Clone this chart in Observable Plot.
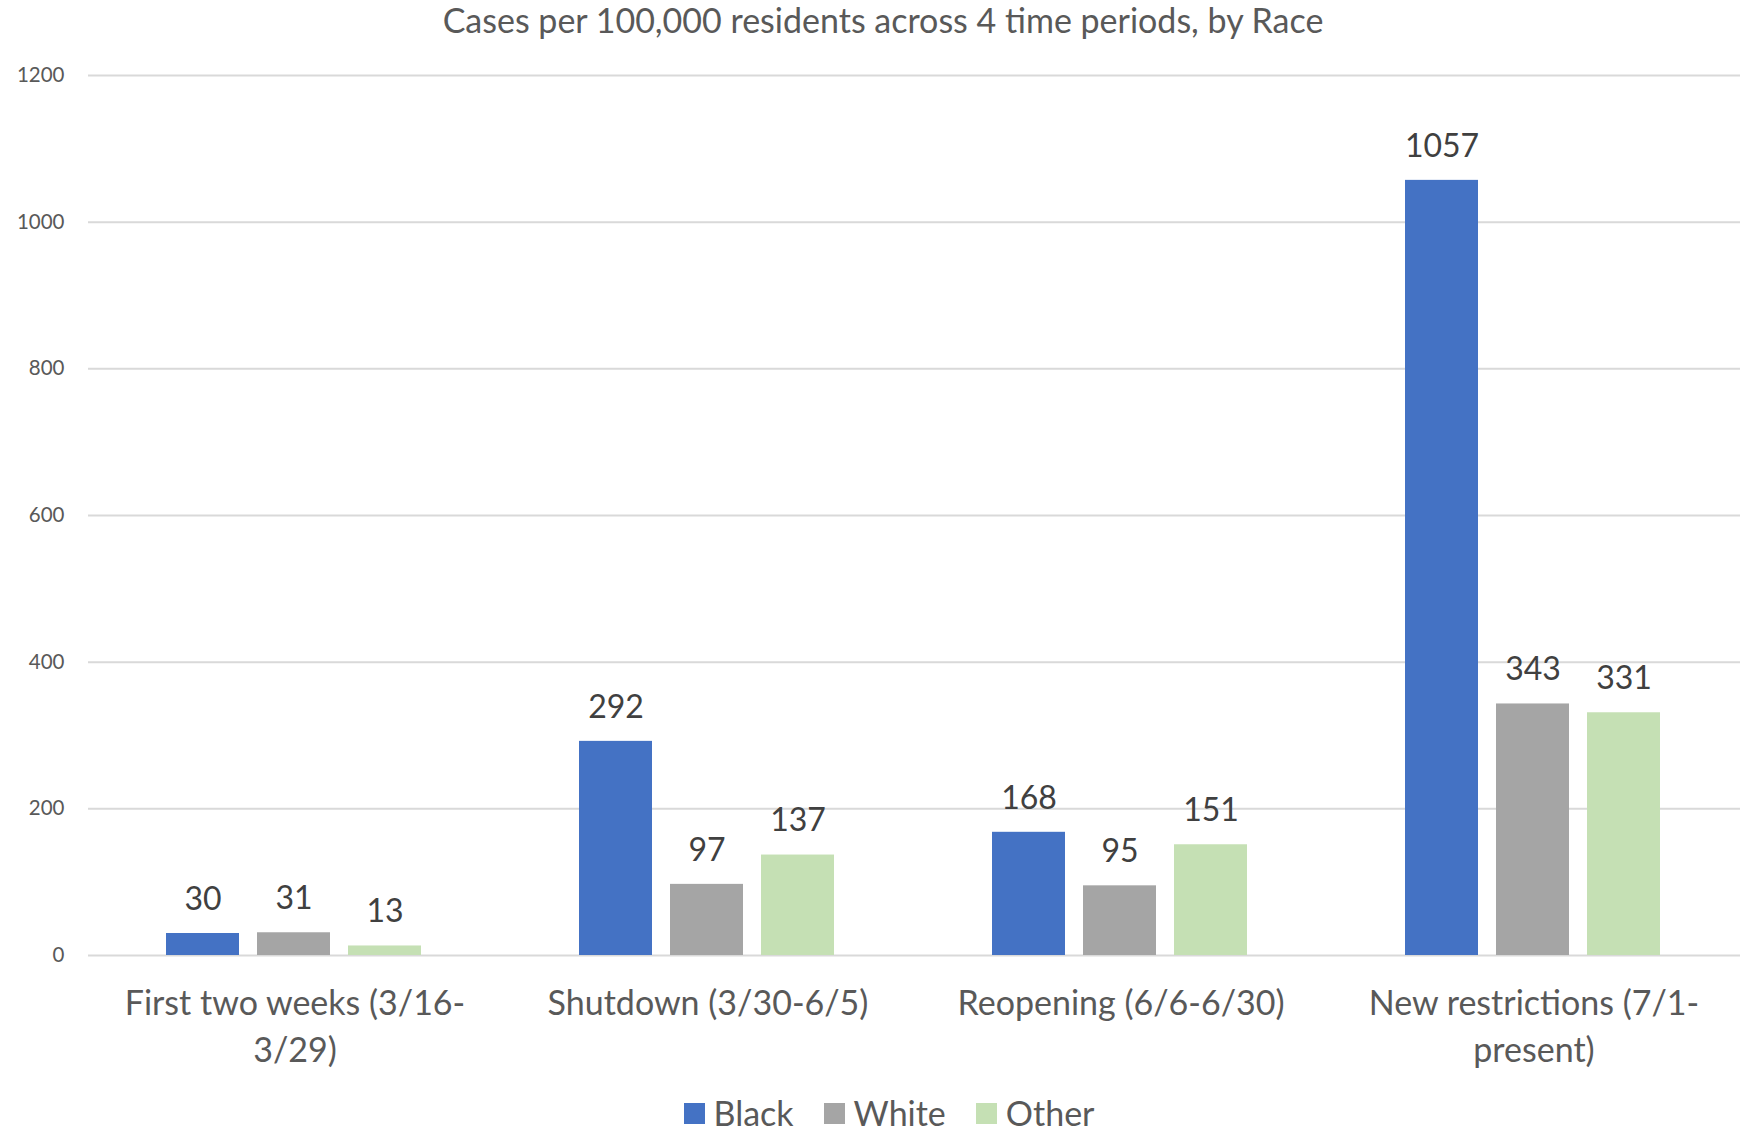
<!DOCTYPE html>
<html>
<head>
<meta charset="utf-8">
<script src="https://cdn.jsdelivr.net/npm/d3@7"></script>
<script src="https://cdn.jsdelivr.net/npm/@observablehq/plot@0.6"></script>
<style>
  html, body { margin: 0; padding: 0; background: #fff; width: 1744px; height: 1132px; overflow: hidden; }
  body { font-family: Lato, "Open Sans", sans-serif; }
  #title { height: 40px; line-height: 40px; font-size: 34px; color: #595959; text-align: center; padding-left: 22px; white-space: nowrap; }
  #legend { display: flex; justify-content: center; align-items: center; height: 34px; line-height: 34px; font-size: 34px; color: #595959; padding-left: 34px; }
  #legend .item { display: flex; align-items: center; margin: 0 15px; }
  #legend .sw { width: 21px; height: 21px; margin-right: 9px; }
  svg text { font-family: Lato, "Open Sans", sans-serif; }
</style>
</head>
<body>
<div id="title">Cases per 100,000 residents across 4 time periods, by Race</div>
<div id="chart"></div>
<div id="legend"></div>
<script>
const periods = ["First two weeks (3/16-3/29)", "Shutdown (3/30-6/5)", "Reopening (6/6-6/30)", "New restrictions (7/1-present)"];
const periodLabels = ["First two weeks (3/16-\n3/29)", "Shutdown (3/30-6/5)", "Reopening (6/6-6/30)", "New restrictions (7/1-\npresent)"];
const races = ["Black", "White", "Other"];
const colors = ["#4472C4", "#A5A5A5", "#C5E0B4"];
const blackValues = [30, 292, 168, 1057];
const whiteValues = [31, 97, 95, 343];
const otherValues = [13, 137, 151, 331];
const yTicks = [0, 200, 400, 600, 800, 1000, 1200];

const seriesValues = [blackValues, whiteValues, otherValues];
const data = [];
periods.forEach((p, i) => {
  races.forEach((r, j) => data.push({period: p, race: r, value: seriesValues[j][i]}));
});
const labelOf = new Map(periods.map((p, i) => [p, periodLabels[i]]));

const chart = Plot.plot({
  width: 1744,
  height: 1056,
  marginLeft: 87,
  marginRight: 3,
  marginTop: 35,
  marginBottom: 141,
  style: {fontFamily: "Lato, 'Open Sans', sans-serif", background: "#fff"},
  fx: {domain: periods, padding: 0, label: null, axis: null},
  x: {domain: races, paddingInner: 0.2, paddingOuter: 0.86, align: 0.49, axis: null},
  y: {domain: [0, 1200], label: null},
  color: {domain: races, range: colors},
  marks: [
    Plot.ruleY(yTicks, {stroke: "#d9d9d9", strokeWidth: 2}),
    Plot.axisY({ticks: yTicks, tickSize: 0, tickPadding: 24, fontSize: 20.5, fill: "#595959", label: null, tickFormat: d => String(d)}),
    Plot.axisFx({anchor: "bottom", tickSize: 0, tickPadding: 27, fontSize: 34, fill: "#595959", lineHeight: 1.36, tickFormat: d => labelOf.get(d), label: null}),
    Plot.barY(data, {fx: "period", x: "race", y: "value", fill: "race"}),
    Plot.text(data, {fx: "period", x: "race", y: "value", text: d => String(d.value), dy: -34, fontSize: 32, fill: "#404040", lineAnchor: "middle"})
  ]
});
document.getElementById("chart").appendChild(chart);

const legend = document.getElementById("legend");
races.forEach((r, i) => {
  const item = document.createElement("div");
  item.className = "item";
  const sw = document.createElement("div");
  sw.className = "sw";
  sw.style.background = colors[i];
  const lab = document.createElement("span");
  lab.textContent = r;
  item.appendChild(sw);
  item.appendChild(lab);
  legend.appendChild(item);
});
</script>
</body>
</html>
